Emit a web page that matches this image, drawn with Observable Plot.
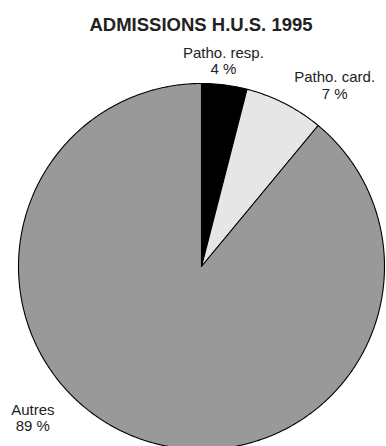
<!DOCTYPE html>
<html><head><meta charset="utf-8">
<script src="https://cdn.jsdelivr.net/npm/d3@7"></script>
<script src="https://cdn.jsdelivr.net/npm/@observablehq/plot@0.6"></script>
<style>
html,body{margin:0;padding:0;background:#fff;overflow:hidden;}
#title{font-family:"Liberation Sans",Arial,sans-serif;font-weight:bold;font-size:18.5px;line-height:21px;height:21px;padding-top:14px;padding-left:16px;width:370px;text-align:center;color:#222;}
#chart svg{display:block;}
</style></head><body>
<div id="title">ADMISSIONS H.U.S. 1995</div>
<div id="chart"></div>
<script>
// Data
const categories = ["Patho. resp.", "Patho. card.", "Autres"];
const percents = [4, 7, 89];
const fills = ["#000000", "#e6e6e6", "#999999"];

// Label layout (angle shift from slice middle in degrees, radius in pie radii)
const labelAngleShift = [-0.7, 11.4, 25.9];
const labelRadius = [1.056, 1.171, 1.288];

const rows = categories.map((c, i) => ({name: c, value: percents[i], i}));
const arcs = d3.pie().sort(null).value(d => d.value).startAngle(0).endAngle(2 * Math.PI)(rows);

const poly = [];
arcs.forEach(a => {
  const name = a.data.name;
  poly.push({name, x: 0, y: 0});
  const n = Math.max(2, Math.ceil((a.endAngle - a.startAngle) / (Math.PI / 360)));
  for (let k = 0; k <= n; k++) {
    const t = a.startAngle + (a.endAngle - a.startAngle) * k / n;
    poly.push({name, x: Math.sin(t), y: Math.cos(t)});
  }
  poly.push({name, x: 0, y: 0});
});

const labels = arcs.map(a => {
  const i = a.data.i;
  const t = (a.startAngle + a.endAngle) / 2 + labelAngleShift[i] * Math.PI / 180;
  const r = labelRadius[i];
  return {x: r * Math.sin(t), y: r * Math.cos(t), text: `${a.data.name}\n${a.data.value} %`};
});

const chart = Plot.plot({
  width: 386,
  height: 414,
  marginLeft: 18,
  marginRight: 2,
  marginTop: 48,
  marginBottom: 0,
  style: {fontFamily: '"Liberation Sans", Arial, sans-serif', background: "#fff", overflow: "visible"},
  x: {domain: [-1, 1], axis: null},
  y: {domain: [-1, 1], axis: null},
  color: {domain: categories, range: fills},
  marks: [
    Plot.line(poly, {x: "x", y: "y", z: "name", fill: "name", stroke: "#000", strokeWidth: 1.1, strokeLinejoin: "round", curve: "linear"}),
    Plot.text(labels, {x: "x", y: "y", text: "text", lineAnchor: "bottom", lineHeight: 1.08, fontSize: 15, fill: "#222"})
  ]
});
document.getElementById("chart").appendChild(chart);
</script>
</body></html>
